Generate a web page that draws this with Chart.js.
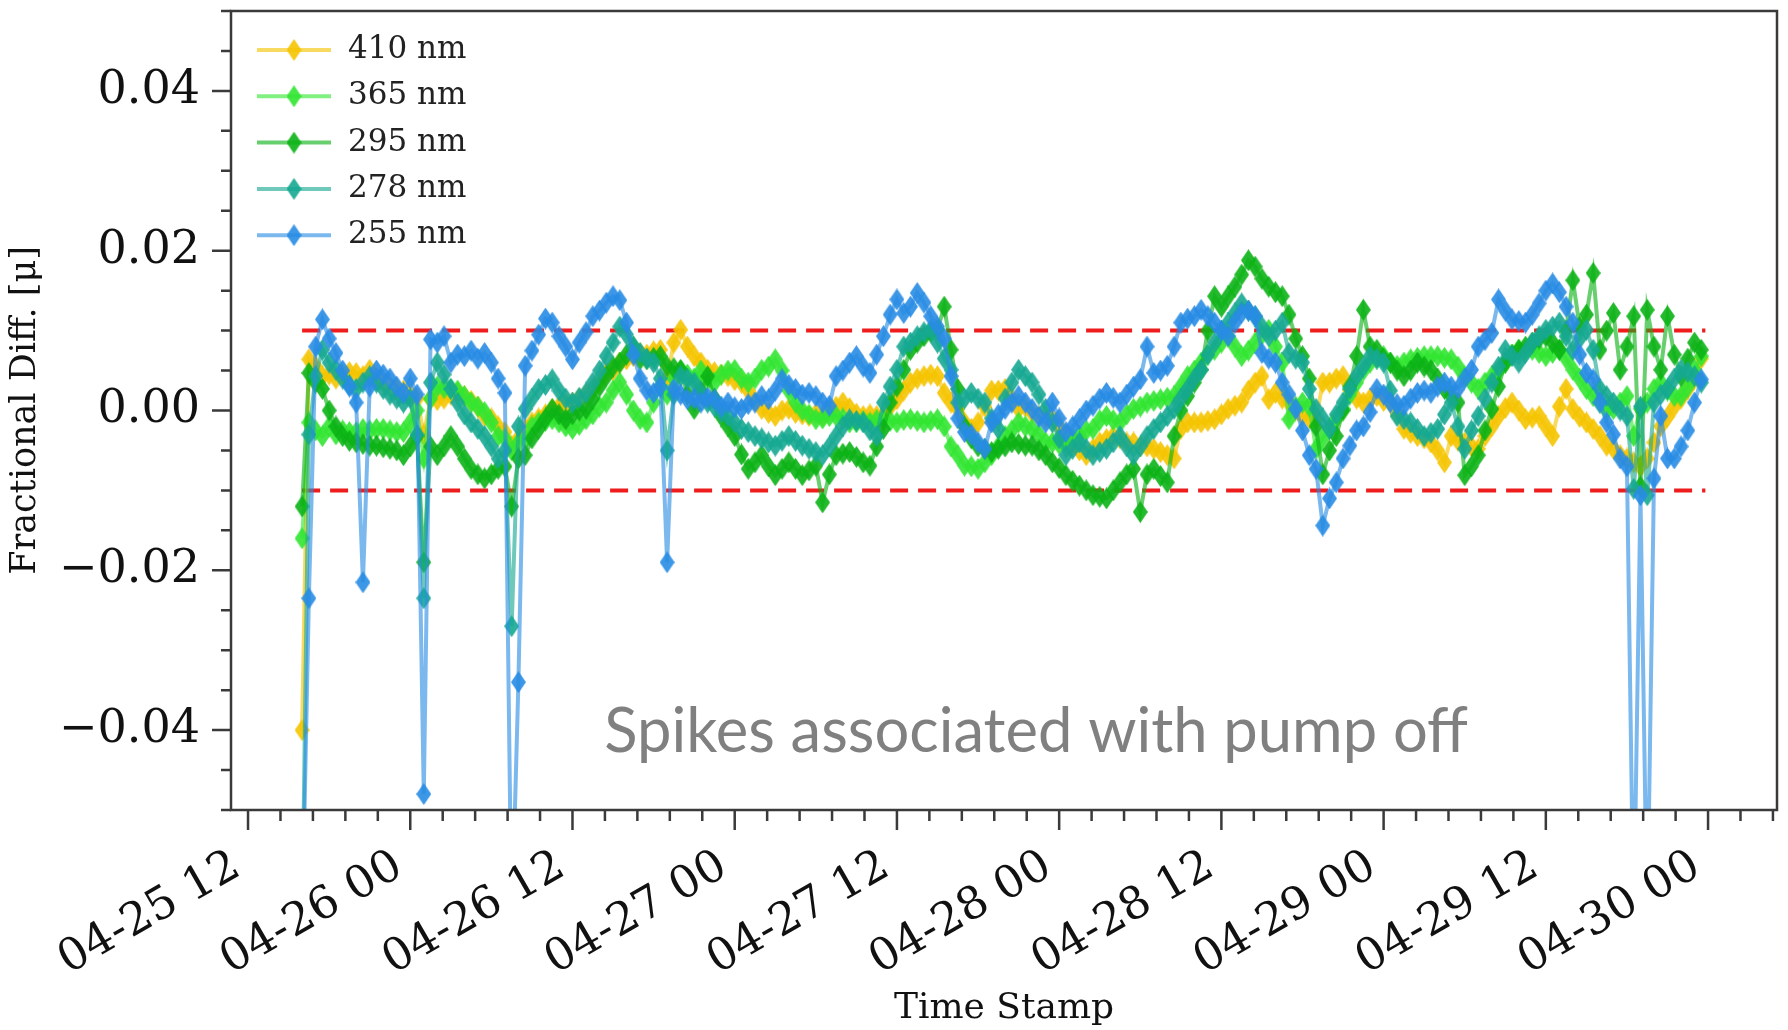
<!DOCTYPE html>
<html>
<head>
<meta charset="utf-8">
<title>Fractional Diff. vs Time Stamp</title>
<script src="https://cdn.jsdelivr.net/npm/chart.js@4.4.1/dist/chart.umd.min.js"></script>
<style>
  html, body { margin: 0; padding: 0; background: #fff; }
</style>
</head>
<body>
<canvas id="chart" width="1788" height="1030"></canvas>
<script>
// =====================================================
// Data: one reading every half hour, hours counted from 04-25 00:00
// values are fractional differences in units of 1e-3
// =====================================================
const START_HOUR = 16;
const STEP_HOURS = 0.5;

const WAVELENGTHS = ["410 nm", "365 nm", "295 nm", "278 nm", "255 nm"];

const DIFF_410 = [
  -40, 6.4, 5.5, 4.3, 4.5, 4, 4.5, 4.8, 4.7, 4.3, 5.1, 4,
  3.5, 3, 2.7, 2.5, 2, 1.5, -3, 1.4, 1.3, 1.5, 2, 2.2,
  1.8, 1.2, 0.5, -0.7, -1, -2, -2.7, -4.4, -3.5, -2.3, -1.5, -1,
  -0.5, 0.2, 0.5, 0.8, 1, 1.5, 2, 2.7, 3.5, 4.7, 5, 6,
  6.4, 6.8, 7.2, 7, 7.4, 7.6, 4, 8.5, 10.1, 8, 6.8, 6,
  5.1, 4.8, 4.5, 4.3, 3.8, 3.5, 2.5, 1.2, 0.2, -0.3, -0.7, 0,
  0.2, -0.3, -0.5, -0.7, -0.4, -0.7, 0, 0.5, 1, 0.3, -0.4, -0.7,
  -0.5, -0.7, -0.6, 0.5, 1.4, 2.5, 3.5, 4, 4.3, 4.5, 4.3, 2.2,
  1, 0.2, -1.5, -2.3, -1.5, 0.5, 2.5, 2.5, 2.7, 1.5, 0.2, 0.5,
  -0.3, -0.7, -0.9, -1.1, -2, -3.2, -4.2, -5, -5.6, -4.8, -4, -3.6,
  -3.2, -3.5, -4, -4, -4.5, -4.5, -4.8, -5.2, -5.6, -6, -2.3, -1.5,
  -1.5, -1.5, -1.3, -1.1, -0.5, 0.2, 0.6, 1, 2.5, 3.5, 4.3, 1.4,
  2.2, 1.5, 1, 0, -0.7, -1, -1.1, 3.5, 3.5, 4, 4.3, 2.5,
  1.5, 1, 1.5, 1.8, 1.2, 1, -0.5, -2.3, -2.8, -3.2, -3.5, -4,
  -5, -6.5, -3.2, -3.8, -4, -4.5, -4.8, -3.2, -2, -0.7, 0.3, 1,
  0, -1.1, -0.9, -0.7, -2, -3.2, 0.5, 2.7, 0.2, -0.8, -1.5, -2.3,
  -3.2, -4.4, -4.8, -5.6, -6, -6.5, -7, -6, -4, -2, -0.8, 0.5,
  1.5, 2.7, 4, 6.5
];

const DIFF_365 = [
  -16, -1.5, -2.5, -3.2, -2, -3, -2.5, -2.7, -2.7, -2.3, -2.5, -2.3,
  -2.3, -2.5, -2.7, -2.7, -1.5, 0, -6, 1.5, 3, 2.8, 2.7, 2.5,
  1.8, 1, 0.5, -0.2, -1.5, -3.2, -3.5, -5, -4, -3.5, -2, -1.5,
  -1.3, -1.1, -1.5, -2, -2.3, -1.8, -1.1, -0.5, 0.5, 1, 2.5, 3.5,
  2, 0, -1.1, -1.5, 1, 3, 2, 4, 5, 4.5, 4, 5,
  4, 3.5, 4.5, 5, 5.1, 4, 3.5, 4, 5.1, 5.5, 6.4, 5,
  2.5, 1, 0, -0.5, -1.1, -1, -0.7, -0.7, -1, -1.5, -1.5, -1.3,
  -1.5, -1.2, -1.1, -1.3, -1.5, -1.2, -1.1, -1.3, -1.5, -1.3, -1.1, -2,
  -4.5, -5.6, -6.9, -7, -7.3, -6.5, -5.6, -4.5, -3.2, -2.5, -1.5, -2,
  -2.3, -3, -4, -4, -4.2, -4, -3.5, -3.2, -2.5, -2.3, -1.2, -0.7,
  -1.2, -1.5, -0.5, 0.2, 0.5, 1, 1.2, 1.4, 1.6, 1.8, 3, 4.3,
  5, 6, 7, 7.6, 8.5, 9.3, 8, 6.8, 7.5, 8.5, 9.5, 10.1,
  8, 6, -1.1, 0.5, 1, 0.5, -4.8, -3.5, -2.3, -1, 0.2, 2,
  3.5, 5, 6, 6.5, 6.8, 6, 5.6, 6, 6.4, 6.6, 6.8, 6.8,
  6.8, 6.6, 6.4, 5.5, 4.3, 3.5, 2.7, 3.5, 4.3, 5, 6, 7,
  7.6, 7.5, 7.6, 7.2, 6.8, 7.2, 7.6, 6.5, 5.1, 4, 2.7, 1.8,
  1, 0, 0.2, 1, 1.8, -3.2, 0.2, 1, 2.7, 3.5, 2.5, 1.8,
  1.8, 3, 5.1, 6.8
];

const DIFF_295 = [
  -12, 4.7, 3.5, 2.7, 0, -2, -3.2, -3.8, -4, -4.2, -4.4, -4.4,
  -4.6, -4.8, -5, -5.6, -4.5, -3.2, -19, -4.5, -5.6, -4.5, -3.2, -4.5,
  -6, -7.3, -8, -8.5, -8, -7.3, -7, -12, -6, -5.6, -3.5, -2.3,
  -1, 0.2, -0.5, -1.1, -0.5, 0, 0.2, 1.5, 3, 4.3, 5.5, 6,
  7, 8, 6.4, 6.4, 6.6, 6.8, 5.5, 5.3, 5.1, 2, 0.2, 2.5,
  4.3, 1.5, -0.7, -2, -3.2, -5.5, -7.3, -6.5, -5.6, -7, -8.1, -7.3,
  -6.5, -7.3, -8.1, -7.5, -6.9, -11.5, -8, -5.6, -5.4, -5.2, -5.8, -6.5,
  -6.9, -4.5, -2.3, 1, 3, 5.1, 7.6, 8.5, 9.3, 9.8, 10.1, 13,
  7.6, 2.7, -2, -3.5, -4.5, -4.8, -5.2, -4.8, -4.5, -4, -4.2, -4.4,
  -4.4, -5, -5.6, -6.5, -7.2, -8.1, -8.8, -9.4, -10, -10.6, -10.8, -11,
  -10, -9, -8, -7.3, -12.7, -8, -7.3, -8.2, -9, -3.2, 0, 1.8,
  3.5, 5.1, 10, 14.3, 13, 14.3, 15.5, 17, 18.8, 18, 16.5, 15.5,
  14.8, 14.3, 12, 9, 6.8, 4, -2, -8, -5, -3.2, 0, 3,
  6.8, 12.6, 8, 7.6, 6.5, 6, 5, 4.3, 5, 6, 5.5, 5.1,
  4, 2.7, 1.8, 1, -8.1, -7, -5.6, -2.5, 0.2, 3, 6, 7,
  7.6, 8, 8.5, 9, 9.3, 8.5, 7.6, 10, 16.3, 10.5, 12, 17.2,
  7.6, 10, 12.2, 5.1, 8, 11.8, -9.5, 12.6, 8, 5.1, 11.8, 7,
  4.3, 6.5, 8.5, 7.6
];

const DIFF_278 = [
  -65, -3, 4.3, 7.6, 6, 5.1, 4, 3.2, 2.7, 3.5, 4.3, 3.5,
  2.7, 2, 1.5, 1, 1.5, -3, -23.5, 3.5, 6, 4.5, 2.7, 1,
  -0.5, -1.5, -2.3, -3.2, -4.5, -6, -5, -27, -2, 0.2, 1.5, 2.7,
  3.2, 3.9, 2.5, 1.5, 1, 1.6, 2.2, 3.5, 5, 6.8, 8.5, 10.5,
  9.5, 8, 7.2, 6.5, 6, 4, -5, 2, 4.3, 4, 3.5, 2.2,
  1, 0.5, -0.2, -0.7, -1.5, -2.3, -2.7, -3.2, -3.5, -4, -4.4, -3.8,
  -3.2, -3.8, -4.4, -4.8, -5.2, -5.6, -4.5, -3.2, -2, -1.1, -1.3, -1.5,
  -2.5, -3.2, 1, 3, 5.1, 8, 8.5, 9.3, 9.8, 10.1, 8.5, 6.5,
  5.1, 1, 1.5, 2.2, 1.5, 1, -1, -2.3, 1.5, 3.5, 5.1, 4.3,
  3.5, 2, 0.2, -1.5, -3.5, -5.6, -4.8, -4, -4.8, -5.6, -5.2, -4.8,
  -4, -3.2, -4.5, -5.6, -4.5, -3.2, -2.3, -1.5, -0.7, 0.2, 1.5, 2.7,
  4, 5.1, 7, 8.5, 10, 11, 12.2, 13.4, 12.5, 11.8, 10.5, 9.3,
  10, 11, 7.2, 6.5, 6, 2.7, 0.2, -1, -2.3, -0.5, 1, 2.7,
  4.3, 5.5, 6.8, 6.5, 6, 2.5, -0.7, -1.1, -1.5, -2.3, -3.2, -2.8,
  -2.3, -0.5, 1, -2, -4.8, -2.5, -0.7, 1.5, 3.5, 5.5, 7.6, 6.8,
  6, 7.2, 8.5, 9.3, 10.1, 10.5, 11, 9.3, 7.6, 9, 10.1, 7.6,
  2.7, 1.8, 1, 0, -0.7, -9.8, 0.5, -10.6, 1, 2, 2.7, 4,
  5.1, 4.8, 4.3, 3.5
];

const DIFF_255 = [
  -65, -23.5, 8, 11.4, 9, 7.2, 5, 3, 1, -21.5, 3, 5,
  4.5, 4, 3, 2.2, 4, 2, -48, 8.9, 8.5, 9.3, 6, 7,
  6.8, 7.5, 6.5, 7.2, 6, 4, 2.2, -65, -34, 5.6, 7.5, 9.5,
  11.5, 11, 9.3, 8, 6.4, 8.5, 9.8, 11.8, 12.5, 13.5, 14.3, 13.8,
  11, 7, 4, 2.5, 2.2, 3, -19, 2.7, 2, 1.4, 1.5, 1,
  1.6, 1.4, 0.5, 1, 0.4, 0.2, 0.8, 1, 1.8, 1.4, 2.5, 3.9,
  3.2, 2.7, 2, 2.2, 1.8, 1, 0.6, 4.3, 5, 6, 6.8, 5.5,
  4.7, 7, 9.3, 12, 13.9, 12.2, 13, 14.7, 13.5, 11.8, 10.5, 9,
  4.3, -1, -2.7, -3, -4, -4.8, -1.5, -0.5, 0.2, 1, 1.8, 1,
  0.2, -0.8, -1.5, 1, -1, -2.7, -2, -1.1, 0, 0.6, 1.5, 2.2,
  1.6, 1, 2, 3, 3.9, 8, 4.7, 5, 5.6, 8, 11, 11.5,
  11.8, 12.6, 11.8, 11, 10, 9.3, 11, 12.2, 12.5, 11.8, 7.2, 6.5,
  6, 3.5, 2, 0.2, -2.5, -5.6, -7.3, -14.4, -11, -9, -6, -4.4,
  -2.5, -2, -0.2, 2.7, 2, 1, 0.8, 0.6, 1.5, 2.2, 2.5, 2.2,
  3, 3.5, 3, 2.7, 4, 5.1, 8, 8.8, 9.7, 13.9, 12.5, 11.4,
  11.2, 11, 12, 13.4, 15, 15.9, 14.8, 13, 11, 7, 4.7, 3.9,
  1, -1.5, -3, -6, -7, -65, -10.6, -65, -8.5, -0.7, -6, -6,
  -4.5, -2.5, 1, 3.9
];

// limits (fraction) and the hours they span
const LIMITS = [0.01, -0.01];
const LIMIT_HOURS = [16, 119.8];

// axes
const X_MIN = 10.74, X_MAX = 125.1;
const xTickHours  = [12, 24, 36, 48, 60, 72, 84, 96, 108, 120];
const xTickLabels = ["04-25 12", "04-26 00", "04-26 12", "04-27 00", "04-27 12",
                     "04-28 00", "04-28 12", "04-29 00", "04-29 12", "04-30 00"];
const yTickValues = [-0.04, -0.02, 0, 0.02, 0.04];
const yTickLabels = ["\u22120.04", "\u22120.02", "0.00", "0.02", "0.04"];

const NOTE_TEXT = "Spikes associated with pump off";
const NOTE_AT = { x: 70.3, y: -0.0402 };

// =====================================================
// Styles
// =====================================================
const SERIF = '"DejaVu Serif", "Liberation Serif", serif';
const COLORS = {
  "410 nm": [245, 196, 0],
  "365 nm": [50, 230, 50],
  "295 nm": [12, 178, 22],
  "278 nm": [22, 168, 146],
  "255 nm": [40, 140, 228]
};
const rgba = (c, a) => `rgba(${c[0]},${c[1]},${c[2]},${a})`;

// thin diamond marker, like matplotlib's "d"
const MW = 15, MH = 22;
function diamond(c){
  const cv = document.createElement("canvas");
  cv.width = MW; cv.height = MH;
  const g = cv.getContext("2d");
  g.fillStyle = rgba(c, 0.9);
  g.beginPath();
  g.moveTo(MW / 2, 0); g.lineTo(MW, MH / 2); g.lineTo(MW / 2, MH); g.lineTo(0, MH / 2);
  g.closePath();
  g.fill();
  return cv;
}
const MARKERS = {};
for(const k of WAVELENGTHS) MARKERS[k] = diamond(COLORS[k]);

function series(label, values){
  return {
    label,
    data: values.map((v, i) => ({ x: START_HOUR + i * STEP_HOURS, y: v / 1000 })),
    borderColor: rgba(COLORS[label], 0.62),
    borderWidth: 4,
    pointStyle: MARKERS[label],
    pointRadius: 7,
    pointHoverRadius: 7,
    tension: 0
  };
}

function limitLine(v){
  return {
    label: "limit",
    data: LIMIT_HOURS.map(h => ({ x: h, y: v })),
    borderColor: "#ee1c1c",
    borderWidth: 4,
    borderDash: [18, 10],
    pointRadius: 0
  };
}

// =====================================================
// Frame, tick marks, legend and note
// =====================================================
const extras = {
  id: "extras",
  afterDraw(chart){
    const { ctx, chartArea: a, scales: { x, y } } = chart;
    ctx.save();

    // frame
    ctx.strokeStyle = "#3a3a3a";
    ctx.lineWidth = 2.5;
    ctx.strokeRect(a.left, a.top, a.right - a.left, a.bottom - a.top);

    // x ticks: major every 12 h, minor every 2.4 h
    ctx.beginPath();
    for(let k = -10; k <= 60; k++){
      const h = 12 + k * 2.4;
      if(h < x.min || h > x.max) continue;
      const px = x.getPixelForValue(h);
      const len = k % 5 === 0 ? 20 : 11;
      ctx.moveTo(px, a.bottom);
      ctx.lineTo(px, a.bottom + len);
    }
    // y ticks: major every 0.02, minor every 0.005
    for(let k = -10; k <= 10; k++){
      const py = y.getPixelForValue(k * 0.005);
      const len = (k % 4 === 0 && Math.abs(k) <= 8) ? 19 : 10;
      ctx.moveTo(a.left, py);
      ctx.lineTo(a.left - len, py);
    }
    ctx.stroke();

    // legend
    ctx.font = "31px " + SERIF;
    ctx.textBaseline = "middle";
    ctx.textAlign = "left";
    WAVELENGTHS.forEach((lab, i) => {
      const ly = 50 + i * 46.3;
      ctx.strokeStyle = rgba(COLORS[lab], 0.62);
      ctx.lineWidth = 4;
      ctx.beginPath();
      ctx.moveTo(257, ly);
      ctx.lineTo(331, ly);
      ctx.stroke();
      const m = MARKERS[lab];
      ctx.drawImage(m, 294 - m.width / 2, ly - m.height / 2);
      ctx.fillStyle = "#222";
      ctx.fillText(lab, 348, ly);
    });

    // note
    ctx.font = '61.5px Lato, "Open Sans", sans-serif';
    ctx.fillStyle = "#808080";
    ctx.textAlign = "center";
    ctx.fillText(NOTE_TEXT, x.getPixelForValue(NOTE_AT.x), y.getPixelForValue(NOTE_AT.y));

    ctx.restore();
  }
};

// =====================================================
// Chart
// =====================================================
// datasets drawn last-to-first, so 255 nm ends on top and the limits underneath
const datasets = [
  series("255 nm", DIFF_255),
  series("278 nm", DIFF_278),
  series("295 nm", DIFF_295),
  series("365 nm", DIFF_365),
  series("410 nm", DIFF_410),
  limitLine(LIMITS[0]),
  limitLine(LIMITS[1])
];

new Chart(document.getElementById("chart"), {
  type: "line",
  data: { datasets },
  options: {
    responsive: false,
    animation: false,
    events: [],
    layout: { padding: { left: 0, right: 6, top: 6, bottom: 0 } },
    plugins: { legend: { display: false }, tooltip: { enabled: false } },
    scales: {
      x: {
        type: "linear",
        min: X_MIN,
        max: X_MAX,
        afterBuildTicks: s => { s.ticks = xTickHours.map(v => ({ value: v })); },
        afterFit: s => { s.height = 220; s.paddingLeft = 0; s.paddingRight = 0; },
        grid: { display: false, drawTicks: false },
        border: { display: false },
        ticks: {
          autoSkip: false,
          minRotation: 30,
          maxRotation: 30,
          padding: 30,
          labelOffset: -11,
          color: "#111",
          font: { family: SERIF, size: 45 },
          callback: (v, i) => xTickLabels[i]
        },
        title: {
          display: true,
          text: "Time Stamp",
          color: "#111",
          font: { family: SERIF, size: 36 },
          padding: { top: 0, bottom: 0 }
        }
      },
      y: {
        min: -0.05,
        max: 0.05,
        afterBuildTicks: s => { s.ticks = yTickValues.map(v => ({ value: v })); },
        afterFit: s => { s.width = 231; s.paddingTop = 0; s.paddingBottom = 0; },
        grid: { display: false, drawTicks: false },
        border: { display: false },
        ticks: {
          padding: 31,
          color: "#111",
          font: { family: SERIF, size: 46 },
          callback: (v, i) => yTickLabels[i]
        },
        title: {
          display: true,
          text: "Fractional Diff. [\u03bc]",
          color: "#111",
          font: { family: SERIF, size: 35 },
          padding: { top: 5, bottom: 0 }
        }
      }
    }
  },
  plugins: [extras]
});
</script>
</body>
</html>
